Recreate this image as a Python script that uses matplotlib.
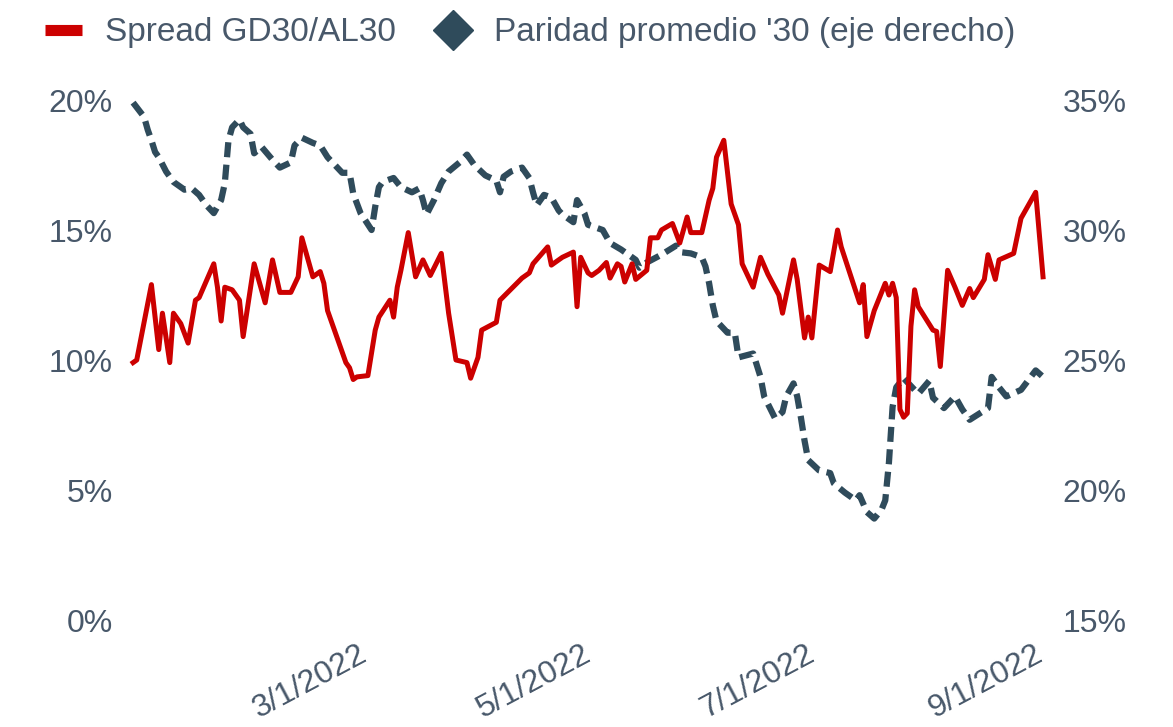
import matplotlib
matplotlib.use("Agg")
import matplotlib.pyplot as plt
import matplotlib.dates as mdates
import matplotlib.transforms as mtransforms
from matplotlib.ticker import PercentFormatter
from matplotlib.lines import Line2D
import pandas as pd

plt.rcParams["font.family"] = ["Liberation Sans", "DejaVu Sans"]

spread_dates = [
    "2021-12-28", "2021-12-29", "2022-01-02", "2022-01-04", "2022-01-05", "2022-01-07",
    "2022-01-08", "2022-01-10", "2022-01-12", "2022-01-14", "2022-01-15", "2022-01-19",
    "2022-01-20", "2022-01-21", "2022-01-22", "2022-01-24", "2022-01-26", "2022-01-27",
    "2022-01-30", "2022-02-02", "2022-02-04", "2022-02-06", "2022-02-09", "2022-02-11",
    "2022-02-12", "2022-02-15", "2022-02-17", "2022-02-18", "2022-02-19", "2022-02-24",
    "2022-02-25", "2022-02-26", "2022-02-27", "2022-03-02", "2022-03-04", "2022-03-05",
    "2022-03-08", "2022-03-09", "2022-03-10", "2022-03-11", "2022-03-13", "2022-03-15",
    "2022-03-17", "2022-03-19", "2022-03-22", "2022-03-24", "2022-03-26", "2022-03-29",
    "2022-03-30", "2022-04-01", "2022-04-02", "2022-04-06", "2022-04-07", "2022-04-13",
    "2022-04-15", "2022-04-16", "2022-04-20", "2022-04-21", "2022-04-24", "2022-04-27",
    "2022-04-28", "2022-04-29", "2022-05-01", "2022-05-02", "2022-05-04", "2022-05-06",
    "2022-05-07", "2022-05-09", "2022-05-10", "2022-05-11", "2022-05-13", "2022-05-14",
    "2022-05-17", "2022-05-18", "2022-05-20", "2022-05-21", "2022-05-24", "2022-05-26",
    "2022-05-28", "2022-05-29", "2022-06-01", "2022-06-03", "2022-06-04", "2022-06-05",
    "2022-06-07", "2022-06-09", "2022-06-11", "2022-06-12", "2022-06-15", "2022-06-17",
    "2022-06-19", "2022-06-22", "2022-06-23", "2022-06-26", "2022-06-27", "2022-06-29",
    "2022-06-30", "2022-07-01", "2022-07-03", "2022-07-06", "2022-07-08", "2022-07-09",
    "2022-07-14", "2022-07-15", "2022-07-16", "2022-07-18", "2022-07-21", "2022-07-22",
    "2022-07-23", "2022-07-24", "2022-07-25", "2022-07-26", "2022-07-27", "2022-07-28",
    "2022-07-29", "2022-07-30", "2022-08-03", "2022-08-04", "2022-08-05", "2022-08-07",
    "2022-08-09", "2022-08-11", "2022-08-13", "2022-08-14", "2022-08-17", "2022-08-18",
    "2022-08-20", "2022-08-21", "2022-08-25", "2022-08-27", "2022-08-31", "2022-09-02",
]
spread_vals = [
    9.9, 10.0, 12.9, 10.4, 11.8, 9.9,
    11.8, 11.4, 10.65, 12.3, 12.4, 13.7,
    12.8, 11.5, 12.8, 12.7, 12.3, 10.9,
    13.7, 12.2, 13.85, 12.6, 12.6, 13.2,
    14.7, 13.2, 13.4, 12.95, 11.9, 9.9,
    9.7, 9.25, 9.35, 9.4, 11.15, 11.65,
    12.3, 11.65, 12.8, 13.45, 14.9, 13.2,
    13.85, 13.25, 14.1, 11.8, 10.0, 9.9,
    9.3, 10.1, 11.15, 11.45, 12.3, 13.15,
    13.35, 13.7, 14.35, 13.65, 13.95, 14.15,
    12.05, 13.95, 13.35, 13.25, 13.45, 13.75,
    13.15, 13.7, 13.6, 13.0, 13.7, 13.1,
    13.45, 14.7, 14.7, 15.0, 15.25, 14.5,
    15.5, 14.9, 14.9, 16.15, 16.6, 17.8,
    18.45, 16.0, 15.2, 13.7, 12.8, 13.95,
    13.3, 12.5, 11.8, 13.85, 13.1, 10.85,
    11.65, 10.85, 13.65, 13.4, 15.0, 14.35,
    12.2, 12.9, 10.9, 11.9, 12.95, 12.5,
    12.95, 12.4, 8.1, 7.8, 7.95, 11.3,
    12.7, 12.05, 11.15, 11.1, 9.75, 13.45,
    12.8, 12.1, 12.75, 12.4, 13.1, 14.05,
    13.1, 13.85, 14.1, 15.45, 16.45, 13.2,
]

parity_dates = [
    "2021-12-28", "2021-12-31", "2022-01-01", "2022-01-02", "2022-01-03", "2022-01-04",
    "2022-01-06", "2022-01-08", "2022-01-11", "2022-01-13", "2022-01-15", "2022-01-17",
    "2022-01-19", "2022-01-21", "2022-01-22", "2022-01-23", "2022-01-24", "2022-01-26",
    "2022-01-27", "2022-01-29", "2022-01-30", "2022-02-01", "2022-02-04", "2022-02-06",
    "2022-02-09", "2022-02-10", "2022-02-12", "2022-02-15", "2022-02-17", "2022-02-19",
    "2022-02-23", "2022-02-25", "2022-02-26", "2022-02-28", "2022-03-03", "2022-03-04",
    "2022-03-05", "2022-03-06", "2022-03-09", "2022-03-11", "2022-03-14", "2022-03-16",
    "2022-03-17", "2022-03-18", "2022-03-20", "2022-03-22", "2022-03-24", "2022-03-27",
    "2022-03-29", "2022-03-31", "2022-04-03", "2022-04-06", "2022-04-07", "2022-04-08",
    "2022-04-10", "2022-04-13", "2022-04-15", "2022-04-16", "2022-04-17", "2022-04-19",
    "2022-04-21", "2022-04-23", "2022-04-24", "2022-04-27", "2022-04-28", "2022-04-30",
    "2022-05-01", "2022-05-05", "2022-05-07", "2022-05-10", "2022-05-14", "2022-05-15",
    "2022-05-17", "2022-05-21", "2022-05-25", "2022-05-26", "2022-05-29", "2022-06-01",
    "2022-06-02", "2022-06-03", "2022-06-04", "2022-06-05", "2022-06-08", "2022-06-10",
    "2022-06-11", "2022-06-15", "2022-06-17", "2022-06-18", "2022-06-21", "2022-06-23",
    "2022-06-24", "2022-06-26", "2022-06-27", "2022-06-28", "2022-06-29", "2022-06-30",
    "2022-07-03", "2022-07-06", "2022-07-07", "2022-07-10", "2022-07-13", "2022-07-14",
    "2022-07-16", "2022-07-18", "2022-07-20", "2022-07-21", "2022-07-22", "2022-07-23",
    "2022-07-24", "2022-07-26", "2022-07-30", "2022-08-02", "2022-08-03", "2022-08-06",
    "2022-08-09", "2022-08-11", "2022-08-13", "2022-08-18", "2022-08-19", "2022-08-21",
    "2022-08-23", "2022-08-27", "2022-08-31", "2022-09-02",
]
parity_vals = [
    34.9, 34.35, 33.85, 33.45, 33.0, 32.8,
    32.25, 31.85, 31.55, 31.6, 31.35, 30.95,
    30.65, 31.15, 31.8, 33.45, 33.95, 34.25,
    33.95, 33.7, 32.95, 33.2, 32.7, 32.4,
    32.6, 33.25, 33.55, 33.35, 33.25, 32.8,
    32.2, 32.2, 31.4, 30.65, 30.0, 30.9,
    31.65, 31.85, 32.0, 31.65, 31.45, 31.6,
    31.15, 30.6, 31.15, 31.8, 32.25, 32.6,
    32.9, 32.5, 32.1, 31.9, 31.45, 32.05,
    32.25, 32.4, 32.0, 31.45, 30.95, 31.35,
    31.25, 30.75, 30.6, 30.3, 31.15, 30.65,
    30.2, 30.0, 29.5, 29.25, 28.85, 28.55,
    28.75, 29.05, 29.4, 29.15, 29.1, 28.95,
    28.6, 27.95, 27.1, 26.5, 26.05, 26.05,
    25.1, 25.25, 24.35, 23.6, 22.75, 23.0,
    23.6, 24.1, 23.6, 22.8, 21.9, 21.15,
    20.75, 20.65, 20.25, 19.9, 19.6, 19.8,
    19.15, 18.9, 19.25, 19.6, 21.05, 23.2,
    23.95, 24.3, 23.7, 24.2, 23.55, 23.15,
    23.6, 23.1, 22.7, 23.15, 24.35, 23.95,
    23.6, 23.85, 24.6, 24.35,
]

tick_dates = ["2022-03-01", "2022-05-01", "2022-07-01", "2022-09-01"]
tick_labels = ["3/1/2022", "5/1/2022", "7/1/2022", "9/1/2022"]

red = "#cc0000"
slate = "#2f4b5b"
txt = "#48586a"

fig = plt.figure(figsize=(11.73, 7.27), dpi=100)
ax = fig.add_axes([125 / 1173, 1 - 620 / 727, 925 / 1173, 520 / 727])
ax2 = ax.twinx()

ax2.plot(pd.to_datetime(parity_dates), parity_vals, color=slate, lw=4.5,
         linestyle=(0, (2.4, 1.2)), dash_capstyle="butt")
ax.plot(pd.to_datetime(spread_dates), spread_vals, color=red, lw=3.6,
        solid_joinstyle="round")
ax.set_zorder(ax2.get_zorder() + 1)
ax.patch.set_visible(False)

x0 = mdates.date2num(pd.Timestamp(spread_dates[0]))
x1 = mdates.date2num(pd.Timestamp(spread_dates[-1]))
ax.set_xlim(x0 - 2.2, x1 + 1.9)
ax.set_ylim(0, 20)
ax2.set_ylim(15, 35)
ax.set_yticks([0, 5, 10, 15, 20])
ax2.set_yticks([15, 20, 25, 30, 35])
ax.yaxis.set_major_formatter(PercentFormatter(100, decimals=0))
ax2.yaxis.set_major_formatter(PercentFormatter(100, decimals=0))

for a in (ax, ax2):
    for s in a.spines.values():
        s.set_visible(False)
    a.tick_params(length=0, labelsize=23, colors=txt)
ax.tick_params(axis="y", pad=9)
ax2.tick_params(axis="y", pad=9)
ax.tick_params(axis="x", pad=14, labelsize=23)

ax.set_xticks(pd.to_datetime(tick_dates))
ax.set_xticklabels(tick_labels, rotation=28, ha="right", va="top",
                   rotation_mode="anchor")
# nudge the slanted labels, after tick_params (which resets transforms)
offset = mtransforms.ScaledTranslation(-6 / 100, 0, fig.dpi_scale_trans)
for lab in ax.get_xticklabels():
    lab.set_transform(lab.get_transform() + offset)

handles = [
    Line2D([], [], color=red, lw=8, solid_capstyle="butt"),
    Line2D([], [], color=slate, marker="D", markersize=20, linestyle="none"),
]
fig.legend(handles, ["Spread GD30/AL30", "Paridad promedio '30 (eje derecho)"],
           loc="center left", bbox_to_anchor=(45 / 1173, 1 - 33 / 727),
           ncol=2, frameon=False, fontsize=24, labelcolor=txt,
           handlelength=1.1, handletextpad=0.7, columnspacing=1.15,
           borderpad=0, borderaxespad=0)

fig.savefig("out.png", dpi=100)
